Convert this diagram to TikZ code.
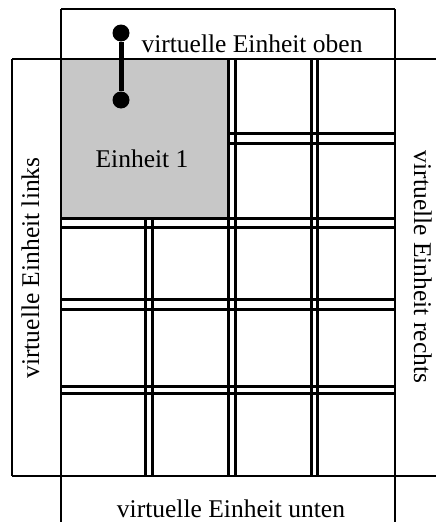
\documentclass[tikz,border=0pt]{standalone}
\usepackage{fontspec}
\setmainfont{Liberation Serif}
\usepackage{tikz}

\begin{document}
\begin{tikzpicture}[x=1pt, y=-1pt,
  trait/.style={line width=2.2pt},
  trait double/.style={line width=3pt},
  pastille/.style={fill, circle, inner sep=0pt, minimum size=17pt},
  etiquette/.style={font=\fontsize{25.5}{30}\selectfont, inner sep=0pt, anchor=base}]
  \useasboundingbox (0,0) rectangle (436,522);

  % Zone grisee de l'unite 1
  \fill[black!22] (61,59) rectangle (228,218);

  % Dessinez le cadre et les unites virtuelles
  \draw[trait] (12,59) -- (436,59);
  \draw[trait] (12,476) -- (436,476);
  \draw[trait] (12,59) -- (12,476);
  \draw[trait] (61,9) -- (395,9);
  \draw[trait] (61,9) -- (61,522);
  \draw[trait] (395,9) -- (395,522);

  % Ajoutez les doubles lignes horizontales
  \foreach \y/\d in {218/9, 299/10, 386/7} {
    \draw[trait double] (61,\y) -- (395,\y);
    \draw[trait double] (61,\y+\d) -- (395,\y+\d);
  }
  \foreach \y in {133, 143} {
    \draw[trait double] (228,\y) -- (395,\y);
  }

  % Ajoutez les doubles lignes verticales
  \foreach \x in {228, 235, 311, 317} {
    \draw[trait double] (\x,59) -- (\x,476);
  }
  \foreach \x in {145, 152} {
    \draw[trait double] (\x,218) -- (\x,476);
  }

  % Placez la liaison entre les deux points
  \node[pastille] (haut) at (121,33) {};
  \node[pastille] (bas) at (121,100) {};
  \draw[line width=5pt] (haut) -- (bas);

  % Ajoutez les etiquettes
  \node[etiquette] (oben) at (252,52) {virtuelle Einheit oben};
  \node[etiquette] (unten) at (231,517) {virtuelle Einheit unten};
  \node[etiquette, rotate=90] (links) at (39,268) {virtuelle Einheit links};
  \node[etiquette, rotate=-90] (rechts) at (414,267) {virtuelle Einheit rechts};
  \node[etiquette] (einheit) at (142,167) {Einheit 1};
\end{tikzpicture}
\end{document}
